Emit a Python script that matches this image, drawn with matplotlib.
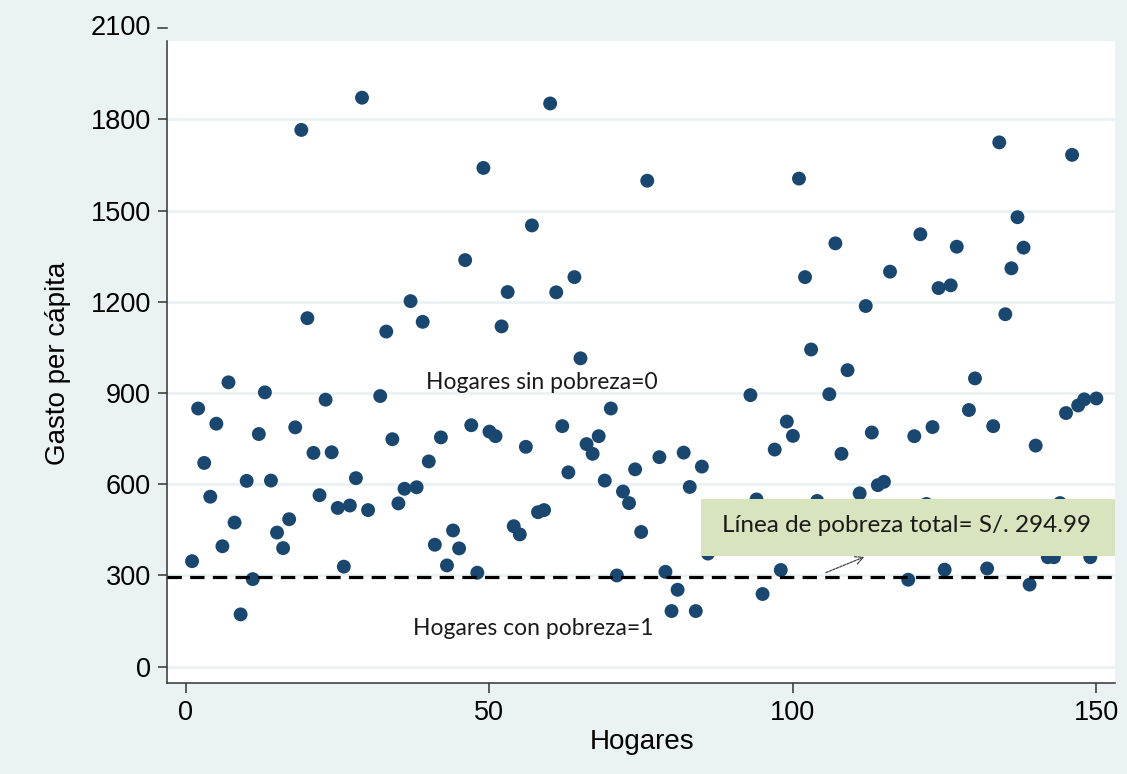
# Gasto per cápita por hogar, con la línea de pobreza total
import matplotlib
matplotlib.use("Agg")
import matplotlib.pyplot as plt
from matplotlib.patches import Rectangle

# datos -----------------------------------------------------------------------
hogares = [1, 2, 3, 4, 5, 6, 7, 8, 9, 10,
           11, 12, 13, 14, 15, 16, 17, 18, 19, 20,
           21, 22, 23, 24, 25, 26, 27, 28, 29, 30,
           32, 33, 34, 35, 36, 37, 38, 39, 40,
           41, 42, 43, 44, 45, 46, 47, 48, 49, 50,
           51, 52, 53, 54, 55, 56, 57, 58, 59, 60,
           61, 62, 63, 64, 65, 66, 67, 68, 69, 70,
           71, 72, 73, 74, 75, 76, 78, 79, 80,
           81, 82, 83, 84, 85, 86, 93, 94, 95,
           97, 98, 99, 100, 101, 102, 103, 104, 106, 107, 108, 109,
           111, 112, 113, 114, 115, 116, 119, 120,
           121, 122, 123, 124, 125, 126, 127, 129, 130,
           132, 133, 134, 135, 136, 137, 138, 139, 140,
           142, 143, 144, 145, 146, 147, 148, 149, 150]
gasto = [347, 849, 670, 559, 799, 396, 935, 474, 172, 611,
         288, 765, 902, 612, 441, 390, 485, 787, 1765, 1146,
         703, 564, 878, 705, 522, 329, 530, 620, 1871, 515,
         890, 1102, 748, 537, 585, 1202, 590, 1134, 675,
         401, 754, 333, 448, 389, 1337, 794, 309, 1640, 773,
         758, 1119, 1232, 462, 435, 723, 1451, 508, 515, 1852,
         1231, 791, 639, 1281, 1014, 732, 700, 758, 612, 849,
         300, 576, 538, 649, 443, 1598, 689, 312, 183,
         253, 704, 591, 183, 658, 372, 893, 550, 239,
         714, 318, 806, 759, 1605, 1281, 1043, 545, 896, 1392, 700, 975,
         570, 1186, 770, 597, 608, 1299, 286, 758,
         1422, 535, 788, 1245, 319, 1254, 1381, 844, 948,
         323, 791, 1724, 1159, 1310, 1478, 1378, 270, 727,
         360, 360, 538, 834, 1683, 859, 879, 360, 882]

linea_pobreza = 294.99
yticks = [0, 300, 600, 900, 1200, 1500, 1800]
xticks = [0, 50, 100, 150]

# colores estilo stata
fondo = '#eaf2f3'
azul = '#1a476f'
verde = '#d7e4bd'

W, H = 1127, 774
fig = plt.figure(figsize=(W / 100, H / 100), dpi=100, facecolor=fondo)
ax = fig.add_axes([167 / W, 1 - 683 / H, (1115 - 167) / W, (683 - 41) / H])
ax.set_facecolor('white')

ax.set_xlim(-3.13, 153.07)
ax.set_ylim(-53.6, 2057.4)

for v in yticks:
    ax.axhline(v, color=fondo, lw=2.0, zorder=0)

ax.scatter(hogares, gasto, s=100, color=azul, edgecolors='none', zorder=3)

ax.axhline(linea_pobreza, color='black', lw=2.3, dashes=(4.5, 2.6), zorder=4)

# recuadro de la linea de pobreza
ax.add_patch(Rectangle((84.9, 362.5), 153.07 - 84.9, 552.1 - 362.5,
                       facecolor=verde, edgecolor='none', zorder=5))
ax.text(88.3, 463.4, 'Línea de pobreza total= S/. 294.99', family='Lato',
        fontsize=17.5, color='#1a1a1a', va='center', ha='left', zorder=6)
ax.annotate('', xy=(112.2, 364.8), xytext=(105.0, 305.6),
            arrowprops=dict(arrowstyle='->', color='#444444', lw=0.9,
                            linestyle=(0, (2, 1)), mutation_scale=14),
            zorder=6)

ax.text(39.6, 936, 'Hogares sin pobreza=0', family='Lato', fontsize=16.5,
        color='#1a1a1a', va='center', ha='left')
ax.text(37.4, 125, 'Hogares con pobreza=1', family='Lato', fontsize=16.5,
        color='#1a1a1a', va='center', ha='left')

# ejes
for s in ['top', 'right']:
    ax.spines[s].set_visible(False)
for s in ['left', 'bottom']:
    ax.spines[s].set_color('#333333')
    ax.spines[s].set_linewidth(1.1)

ax.set_xticks(xticks)
ax.set_yticks(yticks)
ax.tick_params(axis='both', labelsize=19.5, colors='#333333',
               labelcolor='black', width=1.1)
ax.tick_params(axis='x', length=7, pad=5)
ax.tick_params(axis='y', length=6.5, pad=5)
for lab in ax.get_xticklabels() + ax.get_yticklabels():
    lab.set_family('Liberation Sans')

# tick de 2100 fuera de la region del grafico (como en stata)
ytr = ax.get_yaxis_transform()
ax.plot([-9 / 948, 0], [2100, 2100], color='#333333', lw=1.1,
        transform=ytr, clip_on=False)
ax.text(-16 / 948, 2100, '2100', transform=ytr, ha='right', va='center',
        fontsize=19.5, family='Liberation Sans', clip_on=False)

fig.text(58 / W, 1 - 363 / H, 'Gasto per cápita', rotation=90, ha='center',
         va='center', fontsize=20, family='Liberation Sans')
fig.text(642 / W, 1 - 742 / H, 'Hogares', ha='center', va='center',
         fontsize=20, family='Liberation Sans')

fig.savefig('out.png', dpi=100, facecolor=fondo)
